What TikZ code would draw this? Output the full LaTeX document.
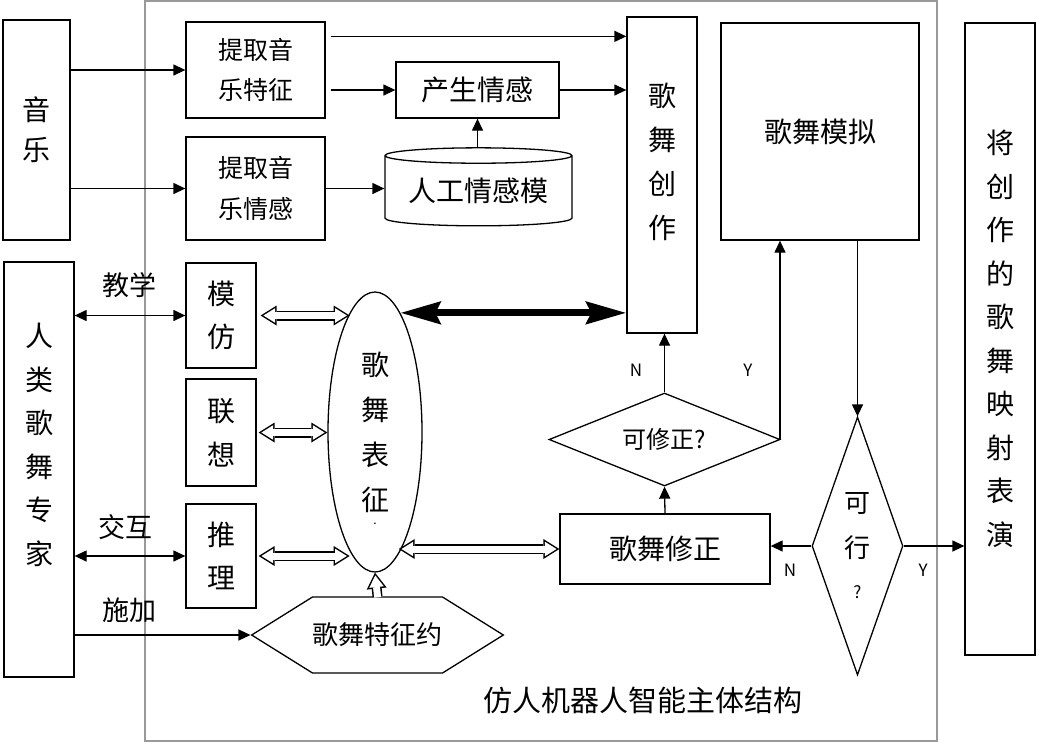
\documentclass[tikz,border=0pt]{standalone}
\usepackage{fontspec}
\newfontfamily\cjk{Noto Sans CJK SC}
\usetikzlibrary{shapes.geometric,shapes.symbols,arrows.meta}

\begin{document}
\begin{tikzpicture}[x=1pt, y=-1pt,
    fs/.style 2 args={font=\cjk\fontsize{#1}{#2}\selectfont},
    box/.style={draw, line width=1.3pt, inner sep=0pt, align=center},
    arr/.style={line width=1.3pt, -{Triangle[length=12pt,width=11pt]}},
    darr/.style={line width=1.3pt, {Triangle[length=12pt,width=11pt]}-{Triangle[length=12pt,width=11pt]}},
    otip/.tip={Triangle[length=16pt,width=20pt,line width=0pt]},
    itip/.tip={Triangle[length=11.7pt,width=14.6pt,line width=0pt]},
    hollow/.style={line width=10pt, {otip}-{otip},
        postaction={draw=white, line width=7pt, shorten <=2.8pt, shorten >=2.8pt, {itip}-{itip}}},
    hollowup/.style={line width=10pt, -{otip},
        postaction={draw=white, line width=7pt, shorten <=-1pt, shorten >=2.8pt, -{itip}}},
    heavy/.style={line width=7pt, {Stealth[length=40pt,width=22pt,inset=5pt]}-{Stealth[length=40pt,width=22pt,inset=5pt]}}]
    \useasboundingbox (0,0) rectangle (1038,745);
    \draw[gray!80, line width=2pt] (145,1) rectangle (937,741); % agent frame
    % inputs
    \node[box, minimum width=67, minimum height=220, fs={28}{40}] (music) at (36.5,130) {音\\乐};
    \node[box, minimum width=70, minimum height=415] (expert) at (39,469.5) {};
    \node[fs={28}{43.5}, align=center] (expertlabel) at (39,445) {人\\类\\歌\\舞\\专\\家};
    % music analysis
    \node[box, minimum width=139, minimum height=96, fs={25}{40}] (feat) at (255.5,70) {提取音\\乐特征};
    \node[box, minimum width=139, minimum height=103, fs={25}{41}] (emo) at (255.5,188.5) {提取音\\乐情感};
    \node[box, minimum width=163, minimum height=56, fs={28}{30}] (gen) at (477.5,90) {产生情感};
    \node[box, cylinder, shape border rotate=90, aspect=0.11, minimum width=187, minimum height=78, fs={28}{30}] (model) at (478.5,191) {人工情感模};
    % creation and simulation
    \node[box, minimum width=70, minimum height=316] (create) at (662,175) {};
    \node[fs={28}{44}, align=center] (createlabel) at (662,162) {歌\\舞\\创\\作};
    \node[box, minimum width=198, minimum height=217, fs={28}{30}] (sim) at (820,131.5) {歌舞模拟};
    \node[box, minimum width=70, minimum height=632, fs={28}{43.5}] (perf) at (1000,339) {将\\创\\作\\的\\歌\\舞\\映\\射\\表\\演};
    % thinking modes
    \node[box, minimum width=70, minimum height=105, fs={28}{43}] (imit) at (221,315.5) {模\\仿};
    \node[box, minimum width=70, minimum height=107, fs={28}{44}] (assoc) at (221,432.5) {联\\想};
    \node[box, minimum width=70, minimum height=104, fs={28}{43}] (reason) at (221,556) {推\\理};
    \node[box, ellipse, minimum width=94, minimum height=280, fs={28}{45}] (repr) at (375,432) {歌\\舞\\表\\征};
    \node[fs={12}{12}, inner sep=0pt] (reprdot) at (375,524) {.};
    \node[box, signal, signal to=west and east, signal pointer angle=64, minimum width=251, minimum height=76, fs={26}{30}] (constr) at (377.5,635) {歌舞特征约};
    % correction loop
    \node[box, minimum width=210, minimum height=70, fs={28}{30}] (fix) at (665,549) {歌舞修正};
    \node[box, diamond, aspect=2.5, minimum width=231, minimum height=93, fs={24}{28}] (canfix) at (664.5,439.5) {可修正?};
    \node[box, diamond, aspect=0.35, minimum width=91, minimum height=258, fs={26}{45}] (ok) at (857.5,546) {可\\行\\[-4pt]{\fontsize{17}{17}\selectfont ?}};
    \node[fs={29}{30}] (title) at (643,700) {仿人机器人智能主体结构};
    % labels
    \node[fs={27}{30}] (teach) at (129,285) {教学};
    \node[fs={27}{30}] (talk) at (125,527) {交互};
    \node[fs={27}{30}] (impose) at (129,610) {施加};
    \node[fs={17}{20}] (n1) at (636,370) {N};
    \node[fs={17}{20}] (y1) at (748,370) {Y};
    \node[fs={17}{20}] (n2) at (790,570) {N};
    \node[fs={17}{20}] (y2) at (923,570) {Y};
    % connectors
    \draw[arr] (music.east |- feat.west) -- (feat.west);
    \draw[arr] (music.east |- emo.west) -- (emo.west);
    \draw[arr] ([xshift=5pt,yshift=-15pt]feat.north east) -- ([yshift=-15pt]feat.north east -| create.west);
    \draw[arr] ([xshift=5pt]feat.east |- gen.west) -- (gen.west);
    \draw[arr] (gen.east) -- (gen.east -| create.west);
    \draw[arr] (emo.east) -- (emo.east -| model.west);
    \draw[arr] (gen.south |- model.north) -- (gen.south);
    \draw[darr] (expert.east |- imit.west) -- (imit.west);
    \draw[darr] (expert.east |- reason.west) -- (reason.west);
    \draw[arr] (expert.east |- constr.west) -- (constr.west);
    \draw[hollow] ([xshift=4pt]imit.east) -- (imit.east -| repr.102);
    \draw[hollow] ([xshift=2pt]assoc.east) -- (assoc.east -| repr.west);
    \draw[hollow] ([xshift=2pt]reason.east) -- (reason.east -| repr.258);
    \draw[hollow] (fix.west -| repr.281) -- (fix.west);
    \draw[hollowup] (constr.north) -- (repr.south);
    \draw[heavy] (repr.78) -- (repr.78 -| create.west);
    \draw[arr] (fix.north) -- (canfix.south);
    \draw[arr] (canfix.north) -- (canfix.north |- create.south);
    \draw[arr] (canfix.east) -| ([xshift=-40pt]sim.south);
    \draw[arr] (sim.south -| ok.north) -- (ok.north);
    \draw[arr] (ok.west) -- (ok.west -| fix.east);
    \draw[arr] (ok.east) -- (ok.east -| perf.west);
\end{tikzpicture}
\end{document}
